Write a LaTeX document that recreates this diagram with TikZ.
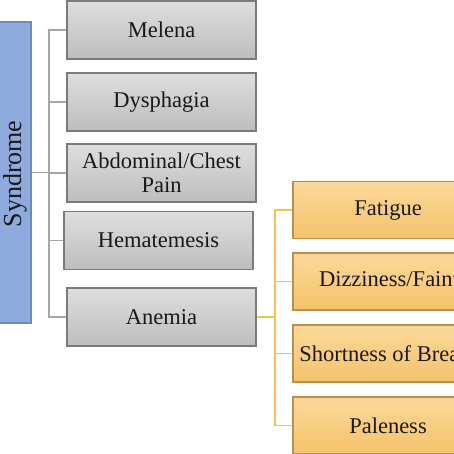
\documentclass[tikz,border=0pt]{standalone}
\usepackage{fontspec}
\setmainfont{Liberation Serif}
\usetikzlibrary{positioning,calc}
\definecolor{sxBlue}{HTML}{8FAADC}
\definecolor{sxBlueLine}{HTML}{6D89C2}
\definecolor{sxGrayTop}{HTML}{DEDEDE}
\definecolor{sxGrayBot}{HTML}{BDBDBD}
\definecolor{sxGrayLine}{HTML}{7A7A7A}
\definecolor{sxOrTop}{HTML}{FBD89A}
\definecolor{sxOrBot}{HTML}{F5C36A}
\definecolor{sxOrLine}{HTML}{B8924A}
\definecolor{sxLink}{HTML}{A6A6A6}
\definecolor{sxOrLink}{HTML}{F2C14E}
\tikzset{
  symbox/.style={
    draw, line width=1.1pt, minimum height=58pt, minimum width=189pt,
    font=\fontsize{22.5}{24}\selectfont, align=center, text=black!90, inner sep=1pt
  },
  signbox/.style={symbox, top color=sxGrayTop, bottom color=sxGrayBot, draw=sxGrayLine},
  anembox/.style={symbox, top color=sxOrTop, bottom color=sxOrBot, draw=sxOrLine,
    minimum width=190pt, minimum height=57pt},
  synbox/.style={draw=sxBlueLine, fill=sxBlue, line width=1.1pt,
    minimum width=91pt, minimum height=301pt},
  link/.style={draw=sxLink, line width=1.5pt},
  orlink/.style={draw=sxOrLink, line width=1.5pt}
}
\begin{document}
\begin{tikzpicture}[x=1pt, y=-1pt]
  \useasboundingbox (0,0) rectangle (454,454);
  \clip (0,0) rectangle (454,454);
  \fill[white] (0,0) rectangle (454,454);
  % syndrome box
  \node[synbox] (syn) at (-14.5,172.5) {};
  \node[rotate=90, font=\fontsize{26}{28}\selectfont, text=black!90] (synlbl) at (15,174) {Syndrome};
  % signs
  \node[signbox] (melena) at (161.5,30) {Melena};
  \node[signbox] (dysph) at (161.5,102) {Dysphagia};
  \node[signbox] (abdom) at (161.5,173) {Abdominal/Chest\\Pain};
  \node[signbox] (hemat) at (158.5,240.5) {Hematemesis};
  \node[signbox] (anemia) at (161.5,317) {Anemia};
  % anemia signs
  \node[anembox] (fatigue) at (388,210) {Fatigue};
  \node[anembox, text width=186pt, align=left] (dizzy) at (388,281.5) {\hspace*{24pt}\mbox{Dizziness/Fainting}};
  \node[anembox] (breath) at (388,353.5) {Shortness of Breath};
  \node[anembox] (pale) at (388,425.5) {Paleness};
  % connectors
  \coordinate (gj) at (49,0);
  \coordinate (oj) at (275,0);
  \draw[link] (syn.east) -- (gj |- syn.east);
  \foreach \b in {melena,dysph,abdom,hemat,anemia}
    \draw[link] (gj |- syn.east) |- (\b.west);
  \draw[orlink] (anemia.east) -- (oj |- anemia.east);
  \foreach \b in {fatigue,dizzy,breath,pale}
    \draw[orlink] (oj |- anemia.east) |- (\b.west);
\end{tikzpicture}
\end{document}
